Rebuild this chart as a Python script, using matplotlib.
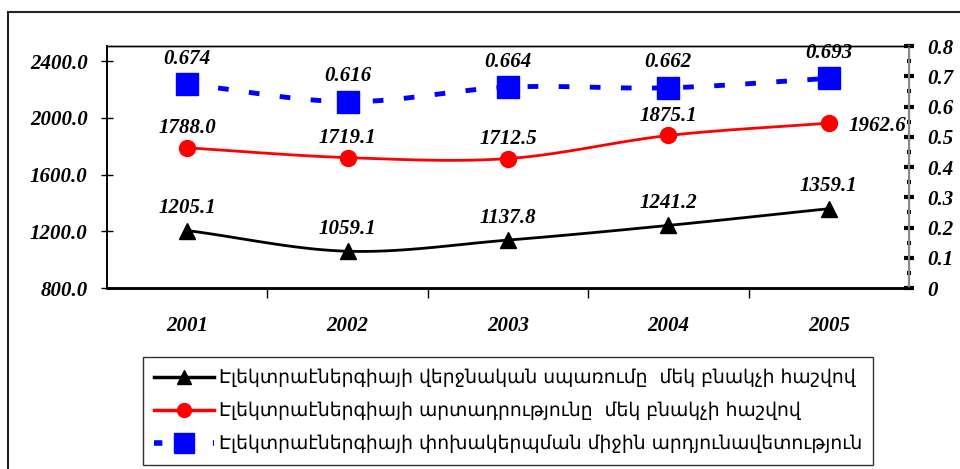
import numpy as np
import matplotlib.pyplot as plt
from matplotlib.patches import Rectangle
from matplotlib.lines import Line2D

years = ['2001', '2002', '2003', '2004', '2005']
consumption = [1205.1, 1059.1, 1137.8, 1241.2, 1359.1]
production = [1788.0, 1719.1, 1712.5, 1875.1, 1962.6]
efficiency = [0.674, 0.616, 0.664, 0.662, 0.693]

legend_labels = [
    'Էլեկտրաէներգիայի վերջնական սպառումը  մեկ բնակչի հաշվով',
    'Էլեկտրաէներգիայի արտադրությունը  մեկ բնակչի հաշվով',
    'Էլեկտրաէներգիայի փոխակերպման միջին արդյունավետություն',
]

lab_font = dict(family='Liberation Serif', weight='bold', style='italic', size=15)


def smooth(xs, ys, n=30):
    # catmull-rom curve through the points, like a smoothed office line
    xs = np.asarray(xs, float)
    ys = np.asarray(ys, float)
    px = np.concatenate([[2 * xs[0] - xs[1]], xs, [2 * xs[-1] - xs[-2]]])
    py = np.concatenate([[2 * ys[0] - ys[1]], ys, [2 * ys[-1] - ys[-2]]])
    outx, outy = [], []
    t = np.linspace(0, 1, n)
    for i in range(1, len(px) - 2):
        for p, out in ((px, outx), (py, outy)):
            p0, p1, p2, p3 = p[i - 1], p[i], p[i + 1], p[i + 2]
            out.extend(0.5 * (2 * p1 + (-p0 + p2) * t
                              + (2 * p0 - 5 * p1 + 4 * p2 - p3) * t ** 2
                              + (-p0 + 3 * p1 - 3 * p2 + p3) * t ** 3))
    return outx, outy


fig = plt.figure(figsize=(9.6, 4.69), dpi=100)
fig.patches.append(Rectangle((8 / 960, -0.05), 1.1, 1 - 12 / 469 + 0.05,
                             transform=fig.transFigure, fill=False,
                             edgecolor='#222222', linewidth=1.5))

ax = fig.add_axes([107 / 960, 1 - 288 / 469, 802 / 960, 242 / 469])
ax2 = ax.twinx()
x = np.arange(len(years))

sx, sy = smooth(x, consumption)
ax.plot(sx, sy, color='black', lw=2)
ax.plot(x, consumption, ls='none', marker='^', ms=12, color='black')
sx, sy = smooth(x, production)
ax.plot(sx, sy, color='red', lw=2)
ax.plot(x, production, ls='none', marker='o', ms=11.5, color='red')
sx, sy = smooth(x, efficiency)
ax2.plot(sx, sy, color='blue', lw=3.5, dashes=(2.2, 4.2))
ax2.plot(x, efficiency, ls='none', marker='s', ms=16, color='blue')

for i, v in enumerate(consumption):
    ax.annotate(f'{v:.1f}', (i, v), xytext=(0, 9), textcoords='offset points',
                ha='center', va='bottom', **lab_font)
for i, v in enumerate(production):
    if i == len(production) - 1:
        ax.annotate(f'{v:.1f}', (i, v), xytext=(14, -2), textcoords='offset points',
                    ha='left', va='center', **lab_font)
    else:
        ax.annotate(f'{v:.1f}', (i, v), xytext=(0, 7), textcoords='offset points',
                    ha='center', va='bottom', **lab_font)
for i, v in enumerate(efficiency):
    ax2.annotate(f'{v:.3f}', (i, v), xytext=(0, 11), textcoords='offset points',
                 ha='center', va='bottom', **lab_font)

ax.set_xlim(-0.5, 4.5)
ax.set_ylim(800, 2506)
ax2.set_ylim(0, 0.8)

ax.set_yticks([800, 1200, 1600, 2000, 2400])
ax.set_yticklabels([f'{v:.1f}' for v in [800, 1200, 1600, 2000, 2400]], **lab_font)
ax.tick_params(axis='y', direction='inout', length=8, width=1, pad=10)

ax.set_xticks([0.5, 1.5, 2.5, 3.5])
ax.set_xticklabels([])
ax.set_xticks(x, minor=True)
ax.set_xticklabels(years, minor=True, **lab_font)
ax.tick_params(axis='x', which='major', direction='out', length=7, width=1)
ax.tick_params(axis='x', which='minor', length=0, pad=20)

ticks2 = np.round(np.arange(0, 0.81, 0.1), 1)
ax2.set_yticks(ticks2)
ax2.set_yticklabels(['0'] + [f'{v:.1f}' for v in ticks2[1:]], **lab_font)
ax2.set_yticks(np.arange(0.05, 0.8, 0.05), minor=True)
ax2.tick_params(axis='y', which='major', direction='inout', length=7, width=3, pad=10)
ax2.tick_params(axis='y', which='minor', direction='inout', length=3, width=3)

for a in (ax, ax2):
    a.spines['top'].set_linewidth(1)
    a.spines['left'].set_linewidth(1.2)
    a.spines['bottom'].set_linewidth(1.8)
ax2.spines['right'].set_color('#888888')
ax2.spines['right'].set_linewidth(1.5)

handles = [
    Line2D([], [], color='black', lw=2.5, marker='^', ms=10),
    Line2D([], [], color='red', lw=2.5, marker='o', ms=10),
    Line2D([], [], color='blue', lw=4, dashes=(1.5, 3.8), marker='s', ms=14),
]
leg = fig.legend(handles, legend_labels, loc='upper left',
                 bbox_to_anchor=(143 / 960, 1 - 357 / 469),
                 prop=dict(family='DejaVu Sans', size=13.5),
                 frameon=True, fancybox=False, edgecolor='black',
                 borderpad=0.6, labelspacing=0.75, handlelength=3.2,
                 handletextpad=0.25, borderaxespad=0)
leg.get_frame().set_linewidth(1)

fig.savefig('out.png', dpi=100)
